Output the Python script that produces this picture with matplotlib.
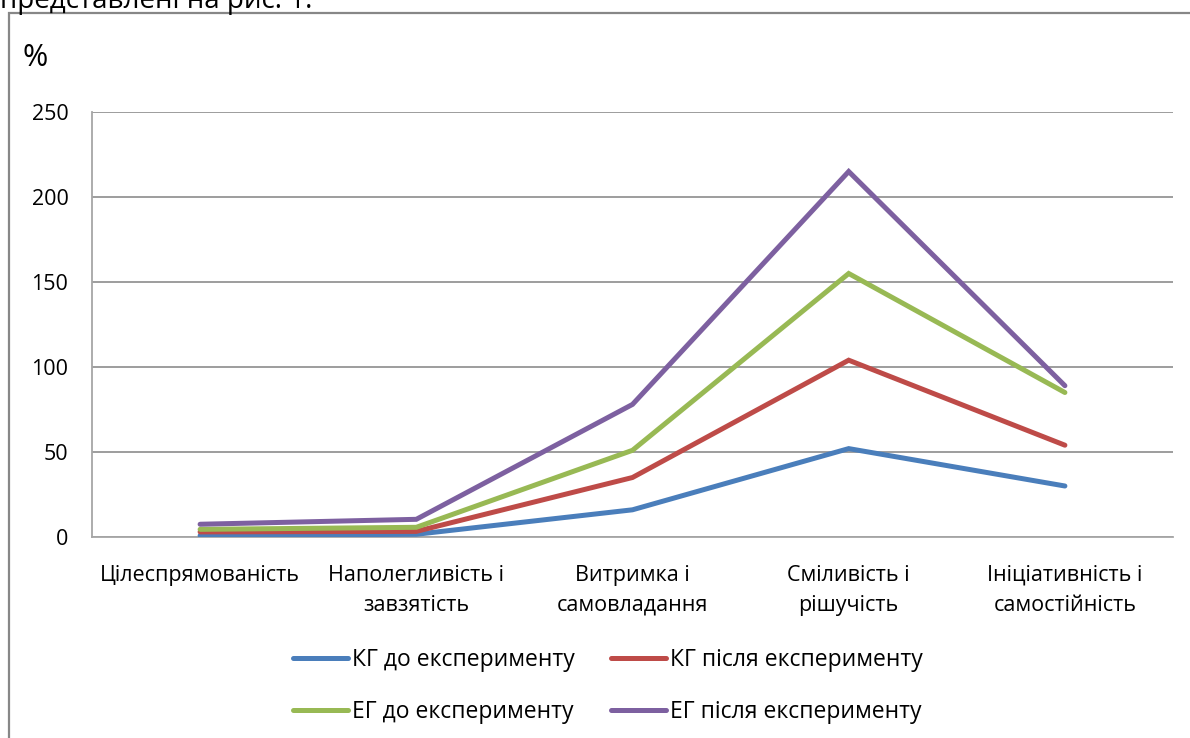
import matplotlib
matplotlib.use("Agg")
import matplotlib.pyplot as plt
from matplotlib.patches import Rectangle

plt.rcParams['font.family'] = ['Open Sans', 'DejaVu Sans']

categories = ["Цілеспрямованість", "Наполегливість і\nзавзятість", "Витримка і\nсамовладання",
              "Сміливість і\nрішучість", "Ініціативність і\nсамостійність"]
series_names = ["КГ до експерименту", "КГ після експерименту",
                "ЕГ до експерименту", "ЕГ після експерименту"]
kg_before = [0.8, 1.6, 16, 52, 30]
kg_after = [3, 3.3, 35, 104, 54]
eg_before = [4.5, 5.7, 51, 155, 85]
eg_after = [7.5, 10.4, 78, 215, 89]
colors = ["#4A7EBB", "#BE4B48", "#98B954", "#7D60A0"]
yticks = [0, 50, 100, 150, 200, 250]

W, H = 1190, 738
fig = plt.figure(figsize=(W / 100, H / 100), dpi=100)

# outer chart border
fig.patches.append(Rectangle((9 / W, -0.05), 1.2, (H - 13) / H + 0.05, transform=fig.transFigure,
                             fill=False, edgecolor="#878787", linewidth=1.6))
# cropped text line at top (cut off in the source image)
fig.text(0 / W, 1 - 8 / H, "представлені на рис. 1.", fontsize=20, va='baseline', ha='left',
         color="#000000")

left, right, top, bottom = 92, 1173, 112, 537
ax = fig.add_axes([left / W, 1 - bottom / H, (right - left) / W, (bottom - top) / H])

x = list(range(len(categories)))
for vals, name, c in zip([kg_before, kg_after, eg_before, eg_after], series_names, colors):
    ax.plot(x, vals, color=c, linewidth=3.6, label=name, solid_capstyle='round',
            solid_joinstyle='miter', zorder=3)

ax.set_xlim(-0.5, len(categories) - 0.5)
ax.set_ylim(0, 250)
ax.set_yticks(yticks)
ax.set_yticklabels([str(t) for t in yticks], fontsize=15.5)
ax.set_xticks(x)
ax.set_xticklabels(categories, fontsize=15.5, linespacing=1.55)
ax.tick_params(axis='both', length=0, colors="#000000")
ax.tick_params(axis='y', pad=17)
ax.tick_params(axis='x', pad=20)
ax.grid(axis='y', color="#8C8C8C", linewidth=1.2, zorder=1)
for s in ['top', 'right']:
    ax.spines[s].set_visible(False)
for s in ['left', 'bottom']:
    ax.spines[s].set_color("#A6A6A6")
    ax.spines[s].set_linewidth(1.3)
ax.set_axisbelow(True)

fig.text(23 / W, 1 - 58 / H, "%", fontsize=22, va='center', ha='left')

handles, labels = ax.get_legend_handles_labels()
order = [0, 2, 1, 3]
leg = fig.legend([handles[i] for i in order], [labels[i] for i in order], ncol=2, loc='center',
                 bbox_to_anchor=(608 / W, 1 - 686 / H),
                 frameon=False, fontsize=16.5, handlelength=2.4, handletextpad=0.15,
                 columnspacing=1.6, labelspacing=1.25)
for lh in leg.get_lines():
    lh.set_linewidth(3.6)

fig.savefig("out.png", dpi=100)
